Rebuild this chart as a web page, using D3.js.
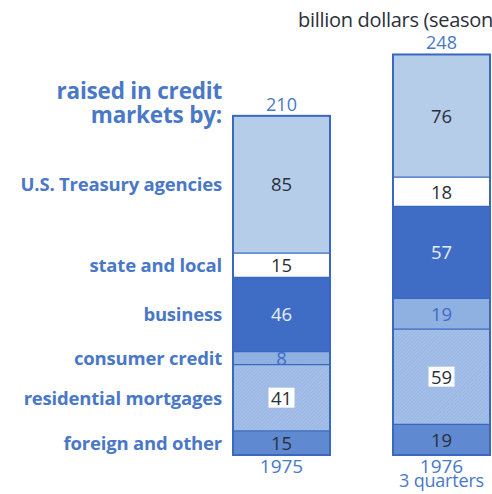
<!DOCTYPE html>
<html>
<head>
<meta charset="utf-8">
<script src="https://cdn.jsdelivr.net/npm/d3@7"></script>
<style>
  body { margin: 0; background: #fff; }
  svg { display: block; }
</style>
</head>
<body>
<div id="chart"></div>
<script>
// categories, bottom to top of the stack
const categories = ["foreign and other", "residential mortgages", "consumer credit", "business", "state and local", "U.S. Treasury agencies"];
const years = ["1975", "1976"];
const yearNotes = ["", "3 quarters"];
const values1975 = [15, 41, 8, 46, 15, 85];
const values1976 = [19, 59, 19, 57, 18, 76];
const totals = [210, 248];

const W = 492, H = 494;
const blue = "#4a78c8";
const font = "'Open Sans', Lato, sans-serif";
const fills = ["#5f8ad2", "url(#hatch)", "#8fb1e2", "#3f6dc6", "#ffffff", "#b6cdea"];
const textColors = ["#2b2f3a", "#2b2f3a", "#3f6dc6", "#e6eefa", "#2b2f3a", "#2b2f3a"];

const svg = d3.select("#chart").append("svg").attr("width", W).attr("height", H);

// hatch texture for mortgages
const defs = svg.append("defs");
const pat = defs.append("pattern").attr("id", "hatch").attr("patternUnits", "userSpaceOnUse")
  .attr("width", 2.5).attr("height", 2.5).attr("patternTransform", "rotate(45)");
pat.append("rect").attr("width", 2.5).attr("height", 2.5).attr("fill", "#a5c0e8");
pat.append("line").attr("x1", 0).attr("y1", 0).attr("x2", 0).attr("y2", 2.5)
  .attr("stroke", "#8eaedf").attr("stroke-width", 1);

// vertical scale: ~1.615 px per billion
const y = d3.scaleLinear().domain([0, 250]).range([455, 455 - 250 * 1.615]);
const x = d3.scaleOrdinal().domain(years).range([233, 393]);
const bw = 97;

const series = [values1975, values1976];

years.forEach((yr, i) => {
  const g = svg.append("g");
  const x0 = x(yr);
  let acc = 0;
  const segs = series[i].map((v, k) => { const s = { v, k, y0: acc, y1: acc + v }; acc += v; return s; });
  g.selectAll("rect.seg").data(segs).join("rect")
    .attr("x", x0).attr("width", bw)
    .attr("y", d => y(d.y1)).attr("height", d => y(d.y0) - y(d.y1))
    .attr("fill", d => fills[d.k]);
  // separators
  g.selectAll("line.sep").data(segs.slice(1)).join("line")
    .attr("x1", x0).attr("x2", x0 + bw)
    .attr("y1", d => y(d.y0)).attr("y2", d => y(d.y0))
    .attr("stroke", "#3a68c0").attr("stroke-width", 1.2);
  // outline
  g.append("rect").attr("x", x0).attr("width", bw)
    .attr("y", y(totals[i])).attr("height", y(0) - y(totals[i]))
    .attr("fill", "none").attr("stroke", "#3a68c0").attr("stroke-width", 2);
  // white boxes behind mortgages numbers
  segs.filter(d => d.k === 1).forEach(d => {
    g.append("rect").attr("x", x0 + bw / 2 - 13).attr("width", 26)
      .attr("y", y((d.y0 + d.y1) / 2) - 10).attr("height", 20).attr("fill", "#fff");
  });
  g.selectAll("text.val").data(segs).join("text")
    .attr("x", x0 + bw / 2).attr("y", d => y((d.y0 + d.y1) / 2) + 7)
    .attr("text-anchor", "middle").attr("font-family", font)
    .attr("font-size", 18.5).attr("fill", d => textColors[d.k])
    .text(d => d.v);
  // total above
  svg.append("text").attr("x", x0 + bw / 2).attr("y", y(totals[i]) - 5)
    .attr("text-anchor", "middle").attr("font-family", font)
    .attr("font-size", 18).attr("fill", blue).text(totals[i]);
  // year below
  svg.append("text").attr("x", x0 + bw / 2).attr("y", y(0) + 18)
    .attr("text-anchor", "middle").attr("font-family", font)
    .attr("font-size", 19).attr("fill", blue).text(yr);
  if (yearNotes[i]) {
    svg.append("text").attr("x", x0 + bw / 2).attr("y", y(0) + 32)
      .attr("text-anchor", "middle").attr("font-family", font)
      .attr("font-size", 18).attr("fill", blue).attr("letter-spacing", -0.2).text(yearNotes[i]);
  }
});

// category labels aligned to the 1975 segments
let acc = 0;
const labelData = values1975.map((v, k) => { const c = acc + v / 2; acc += v; return { name: categories[k], c }; });
svg.selectAll("text.cat").data(labelData).join("text")
  .attr("x", 222).attr("y", d => y(d.c) + 7)
  .attr("text-anchor", "end").attr("font-family", font)
  .attr("font-weight", "bold").attr("font-size", 18.5).attr("fill", blue)
  .attr("letter-spacing", -0.2)
  .text(d => d.name);

svg.append("text").attr("x", 222).attr("y", 99).attr("text-anchor", "end")
  .attr("font-family", font).attr("font-weight", "bold")
  .attr("font-size", 22.5).attr("fill", blue).attr("letter-spacing", -0.2).text("raised in credit");
svg.append("text").attr("x", 222).attr("y", 123).attr("text-anchor", "end")
  .attr("font-family", font).attr("font-weight", "bold")
  .attr("font-size", 22.5).attr("fill", blue).attr("letter-spacing", -0.2).text("markets by:");

svg.append("text").attr("x", 298).attr("y", 27)
  .attr("font-family", font)
  .attr("font-size", 20).attr("fill", "#2b2f3a").attr("letter-spacing", -0.3)
  .text("billion dollars (seasonally adjusted annual rates)");
</script>
</body>
</html>
